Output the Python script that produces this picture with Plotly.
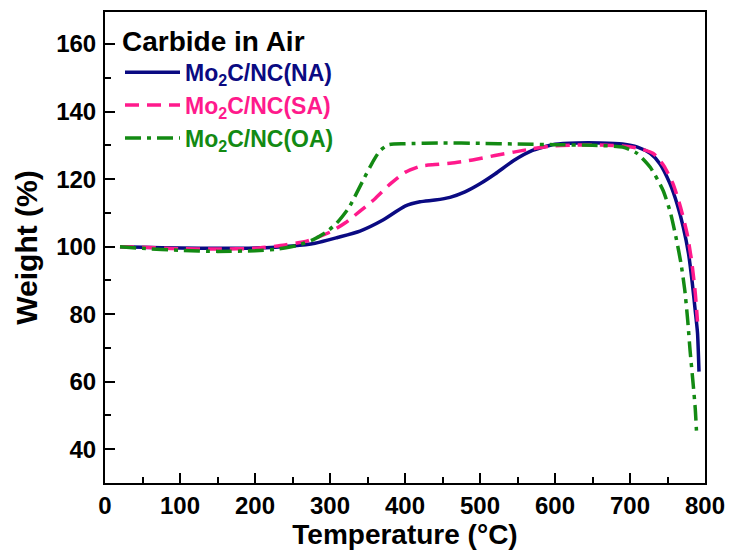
import plotly.graph_objects as go

# Data
t_na = [20, 50, 100, 150, 200, 250, 280, 310, 340, 370, 400, 420, 440, 460, 480, 500, 520, 545, 570, 600, 630, 660, 690, 710, 727, 740, 753, 763, 771, 778, 783, 787, 790, 792]
w_na = [100, 99.8, 99.6, 99.5, 99.6, 100.2, 101.0, 102.7, 104.6, 107.8, 112.0, 113.3, 113.8, 114.6, 116.2, 118.6, 121.5, 125.5, 128.5, 130.3, 130.7, 130.7, 130.4, 129.5, 127.6, 124.5, 118.8, 112.5, 105.8, 98.0, 89.3, 81.0, 74.5, 63.0]

t_sa = [20, 50, 100, 150, 200, 240, 270, 300, 320, 340, 360, 380, 400, 420, 440, 460, 480, 500, 520, 545, 570, 600, 630, 660, 690, 710, 731, 745, 757, 767, 776, 782, 787, 790]
w_sa = [100, 99.8, 99.4, 99.3, 99.5, 100.5, 101.7, 104.3, 107.0, 110.5, 114.2, 118.5, 122.0, 123.8, 124.3, 124.7, 125.3, 126.1, 127.0, 128.0, 129.0, 129.9, 130.1, 130.1, 129.8, 129.2, 127.6, 124.0, 118.8, 112.0, 104.0, 96.0, 86.3, 77.8]

t_oa = [20, 50, 100, 150, 200, 230, 255, 277, 295, 309, 325, 344, 358, 367, 378, 400, 450, 500, 550, 600, 650, 690, 709, 727, 744, 754, 762, 768, 773, 777, 780, 784, 787, 789]
w_oa = [100, 99.5, 98.9, 98.6, 98.8, 99.3, 100.3, 102.0, 104.3, 107.0, 111.5, 119.6, 125.5, 128.5, 130.2, 130.5, 130.7, 130.6, 130.4, 130.2, 130.0, 129.5, 127.7, 123.5, 116.7, 110.0, 102.0, 95.0, 87.2, 78.0, 69.5, 59.8, 52.0, 43.8]

names = ["Mo<sub>2</sub>C/NC(NA)", "Mo<sub>2</sub>C/NC(SA)", "Mo<sub>2</sub>C/NC(OA)"]
colors = ["#0A0A82", "#FF1A8C", "#138A13"]
dashes = ["solid", "14px,8px", "16px,6px,4px,6px"]

FONT = "Liberation Sans, Arial, sans-serif"

fig = go.Figure()
for t, w, n, c, d in zip([t_na, t_sa, t_oa], [w_na, w_sa, w_oa], names, colors, dashes):
    fig.add_trace(go.Scatter(
        x=t, y=w, mode="lines", line=dict(color=c, width=3.5, dash=d, shape="spline", smoothing=0.6),
        name=f"<span style='color:{c}'>{n}</span>",
    ))

axis_common = dict(
    showline=True, linecolor="black", linewidth=2, mirror=True,
    ticks="inside", ticklen=10, tickwidth=2, tickcolor="black",
    showgrid=False, zeroline=False, automargin=False,
    tickfont=dict(family=FONT, size=24, color="black", weight="bold"),
)

fig.update_xaxes(
    range=[0, 800], dtick=100, tick0=0,
    minor=dict(ticks="inside", ticklen=6, tickwidth=2, tickcolor="black", dtick=50),
    ticklabelstandoff=0,
    title=dict(text="Temperature (°C)", font=dict(family=FONT, size=28, color="black", weight="bold"), standoff=0),
    **axis_common,
)
fig.update_yaxes(
    range=[30, 169.5], dtick=20, tick0=0,
    minor=dict(ticks="inside", ticklen=6, tickwidth=2, tickcolor="black", dtick=10),
    ticklabelstandoff=2,
    title=dict(text="Weight (%)", font=dict(family=FONT, size=30, color="black", weight="bold"), standoff=10),
    **axis_common,
)

fig.update_layout(
    width=731, height=552,
    margin=dict(l=105, r=26, t=12, b=69),
    paper_bgcolor="white", plot_bgcolor="white",
    legend=dict(
        x=0.025, y=0.995, xanchor="left", yanchor="top",
        bgcolor="rgba(0,0,0,0)",
        title=dict(text="Carbide in Air", font=dict(family=FONT, size=28, color="black", weight="bold")),
        font=dict(family=FONT, size=23, weight="bold"),
        itemwidth=55,
    ),
)

fig.write_html("out.html")
